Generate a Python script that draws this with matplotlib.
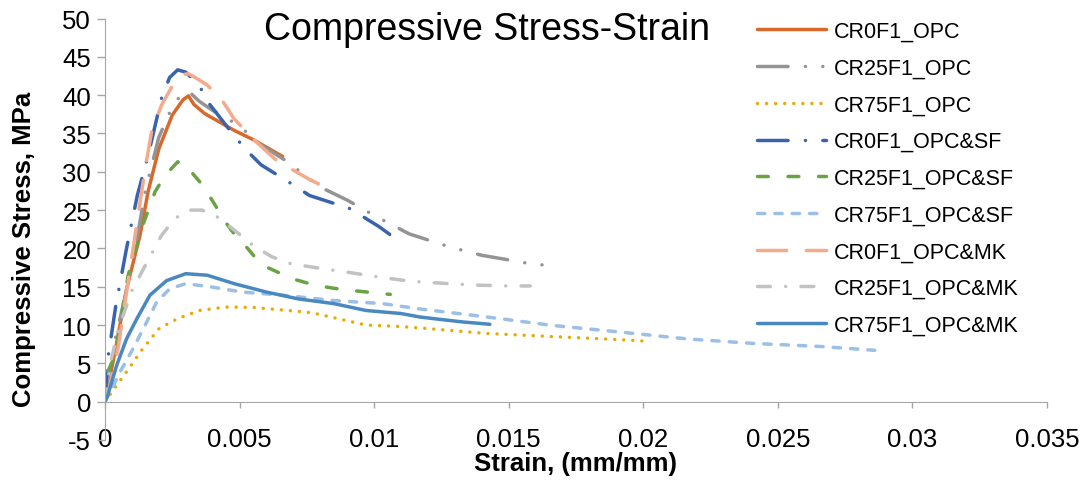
import matplotlib
matplotlib.use("Agg")
import matplotlib.pyplot as plt

plt.rcParams['font.family'] = ['Liberation Sans', 'DejaVu Sans']

# ---------------- data ----------------
series_names = ["CR0F1_OPC", "CR25F1_OPC", "CR75F1_OPC", "CR0F1_OPC&SF", "CR25F1_OPC&SF",
                "CR75F1_OPC&SF", "CR0F1_OPC&MK", "CR25F1_OPC&MK", "CR75F1_OPC&MK"]

cr0f1_opc_x = [0, 0.0002, 0.0004, 0.0008, 0.0013, 0.0016, 0.0020, 0.0025, 0.0029, 0.0031, 0.0033,
               0.0037, 0.0043, 0.0048, 0.0055, 0.0060, 0.0066]
cr0f1_opc_y = [0, 3.5, 7.0, 14.7, 21.7, 27.4, 33.0, 37.4, 39.4, 39.9, 38.8,
               37.6, 36.4, 35.4, 34.2, 33.2, 32.0]

cr25f1_opc_x = [0, 0.0002, 0.0004, 0.0008, 0.0012, 0.0015, 0.0020, 0.0025, 0.0029, 0.0032, 0.0035,
                0.0040, 0.0046, 0.0050, 0.0057, 0.0067, 0.0080, 0.0090, 0.0100, 0.0106, 0.0113,
                0.0128, 0.0140, 0.0150, 0.0158, 0.0164, 0.0167, 0.0167]
cr25f1_opc_y = [0, 4.5, 8.5, 14.5, 21.5, 27.5, 34.5, 38.5, 40.4, 40.2, 39.2,
                38.0, 36.8, 36.0, 33.7, 31.5, 28.0, 26.3, 24.3, 23.2, 21.9,
                20.2, 19.1, 18.5, 18.0, 17.8, 17.4, 16.9]

cr75f1_opc_x = [0, 0.0003, 0.0008, 0.0014, 0.0020, 0.0025, 0.0029, 0.0035, 0.0045, 0.0055, 0.0068,
                0.0077, 0.0087, 0.0097, 0.0110, 0.0123, 0.0142, 0.0166, 0.0185, 0.0201]
cr75f1_opc_y = [0, 1.5, 3.9, 6.9, 9.5, 10.5, 11.1, 11.9, 12.35, 12.3, 11.9,
                11.6, 10.8, 10.0, 9.8, 9.45, 8.9, 8.5, 8.2, 7.9]

cr0f1_sf_x = [0, 0.0001, 0.0004, 0.0008, 0.0012, 0.0016, 0.0021, 0.0024, 0.0027, 0.0030, 0.0035,
              0.0038, 0.0046, 0.0052, 0.0058, 0.0069, 0.0076, 0.0091, 0.0102, 0.0109]
cr0f1_sf_y = [0, 5.5, 12.5, 20.0, 26.9, 32.1, 39.6, 42.3, 43.3, 43.0, 41.3,
              39.2, 35.6, 33.0, 30.9, 28.5, 26.9, 25.2, 22.8, 21.0]

cr25f1_sf_x = [0, 0.0001, 0.00037, 0.00086, 0.00136, 0.00186, 0.00223, 0.0027, 0.0030, 0.0032,
               0.00364, 0.0041, 0.00446, 0.0048, 0.0053, 0.0058, 0.0066, 0.0071, 0.0078, 0.0085,
               0.0092, 0.0103, 0.0106]
cr25f1_sf_y = [0, 3.9, 6.0, 16.5, 22.6, 27.4, 29.5, 31.3, 31.0, 30.0,
               28.2, 25.6, 23.5, 21.9, 20.0, 17.9, 16.6, 15.9, 15.2, 14.8,
               14.5, 14.1, 14.0]

cr75f1_sf_x = [0, 0.0003, 0.00056, 0.00104, 0.00155, 0.00192, 0.00241, 0.0030, 0.0039, 0.0051,
               0.0066, 0.0085, 0.0103, 0.0117, 0.0142, 0.0166, 0.0191, 0.0216, 0.0241, 0.0266, 0.0286]
cr75f1_sf_y = [0, 2.0, 3.9, 6.9, 10.4, 13.0, 14.75, 15.4, 15.0, 14.3,
               13.9, 13.2, 12.8, 12.1, 11.05, 9.96, 9.1, 8.2, 7.6, 7.2, 6.7]

cr0f1_mk_x = [0, 0.0001, 0.00048, 0.00086, 0.00123, 0.00149, 0.00173, 0.0021, 0.0026, 0.0029,
              0.0031, 0.0034, 0.0038, 0.0043, 0.0048, 0.0055, 0.0063, 0.0069, 0.0076, 0.0084]
cr0f1_mk_y = [0, 0.8, 6.9, 15.7, 24.3, 30.4, 35.2, 38.7, 41.8, 42.7,
              42.8, 42.2, 41.3, 39.6, 36.9, 34.3, 31.7, 30.4, 29.0, 27.6]

cr25f1_mk_x = [0, 0.0002, 0.0005, 0.0010, 0.0015, 0.0021, 0.0026, 0.0031, 0.0036, 0.0041, 0.0048,
               0.0055, 0.0062, 0.0069, 0.0080, 0.0090, 0.0103, 0.0114, 0.0128, 0.0139, 0.0150, 0.0158]
cr25f1_mk_y = [0, 5.0, 9.5, 14.5, 17.8, 21.7, 23.9, 25.0, 25.0, 24.3, 22.4,
               20.4, 18.9, 18.0, 17.4, 16.9, 16.2, 15.7, 15.4, 15.2, 15.1, 15.1]

cr75f1_mk_x = [0, 0.0001, 0.00043, 0.0008, 0.00118, 0.00167, 0.00229, 0.0030, 0.0038, 0.0048,
               0.0060, 0.0072, 0.0085, 0.0097, 0.0110, 0.0117, 0.0123, 0.0133, 0.0143]
cr75f1_mk_y = [0, 0.8, 4.7, 8.2, 10.8, 13.9, 15.8, 16.7, 16.5, 15.4,
               14.3, 13.4, 12.8, 11.9, 11.5, 11.05, 10.8, 10.4, 10.1]

x_ticks = [0, 0.005, 0.01, 0.015, 0.02, 0.025, 0.03, 0.035]
x_tick_labels = ["0", "0.005", "0.01", "0.015", "0.02", "0.025", "0.03", "0.035"]
y_ticks = [-5, 0, 5, 10, 15, 20, 25, 30, 35, 40, 45, 50]
y_tick_labels = ["-5", "0", "5", "10", "15", "20", "25", "30", "35", "40", "45", "50"]

# ---------------- styles ----------------
xs = [cr0f1_opc_x, cr25f1_opc_x, cr75f1_opc_x, cr0f1_sf_x, cr25f1_sf_x, cr75f1_sf_x,
      cr0f1_mk_x, cr25f1_mk_x, cr75f1_mk_x]
ys = [cr0f1_opc_y, cr25f1_opc_y, cr75f1_opc_y, cr0f1_sf_y, cr25f1_sf_y, cr75f1_sf_y,
      cr0f1_mk_y, cr25f1_mk_y, cr75f1_mk_y]
colors = ["#D9692A", "#949494", "#E6AC00", "#3A63AE", "#6AA343", "#9CBFE5",
          "#F4AA8B", "#C2C2C2", "#4A88C2"]
styles = ["-",
          (0, (8.8, 5, 0.01, 5, 0.01, 5)),
          (0, (0.01, 2.6)),
          (0, (8.8, 5, 0.01, 5)),
          (0, (3.1, 5.7)),
          (0, (2.1, 2.9)),
          (0, (8.4, 5.7)),
          (0, (3.7, 4.4, 0.01, 4.4)),
          "-"]

fig = plt.figure(figsize=(10.83, 4.85), dpi=100)
ax = fig.add_axes([105 / 1083, 1 - 441 / 485, (1047 - 105) / 1083, (441 - 19.5) / 485])

for x, y, c, ls, name in zip(xs, ys, colors, styles, series_names):
    ax.plot(x, y, color=c, linestyle=ls, linewidth=2.5, label=name,
            dash_capstyle='round', solid_capstyle='round', solid_joinstyle='round')

ax.set_xlim(0, 0.035)
ax.set_ylim(-5, 50)
ax.set_xticks(x_ticks)
ax.set_xticklabels(x_tick_labels)
ax.set_yticks(y_ticks)
ax.set_yticklabels(y_tick_labels)

spine_color = "#A6A6A6"
for s in ["top", "right"]:
    ax.spines[s].set_visible(False)
ax.spines["left"].set_color(spine_color)
ax.spines["bottom"].set_color(spine_color)
ax.spines["bottom"].set_position(("data", 0))
ax.tick_params(axis="y", direction="out", length=6, width=1, color=spine_color,
               labelsize=18.5, pad=4)
ax.tick_params(axis="x", direction="out", length=4, width=1, color=spine_color,
               labelsize=18.5, pad=14)

ax.set_xlabel("Strain, (mm/mm)", fontsize=18.5, fontweight="bold")
ax.set_ylabel("Compressive Stress, MPa", fontsize=18.5, fontweight="bold")
ax.xaxis.set_label_coords(0.5, -0.027)
ax.yaxis.set_label_coords(-0.073, 0.455)

fig.text(487 / 1083, 1 - 30 / 485, "Compressive Stress-Strain", fontsize=27,
         ha="center", va="center")

leg = ax.legend(loc="upper left", bbox_to_anchor=(757 / 1083, 1 - 22 / 485),
                bbox_transform=fig.transFigure, frameon=False, fontsize=15.5,
                handlelength=3.2, handletextpad=0.35, labelspacing=0.73,
                borderpad=0, borderaxespad=0)

fig.savefig("out.png", dpi=100)
